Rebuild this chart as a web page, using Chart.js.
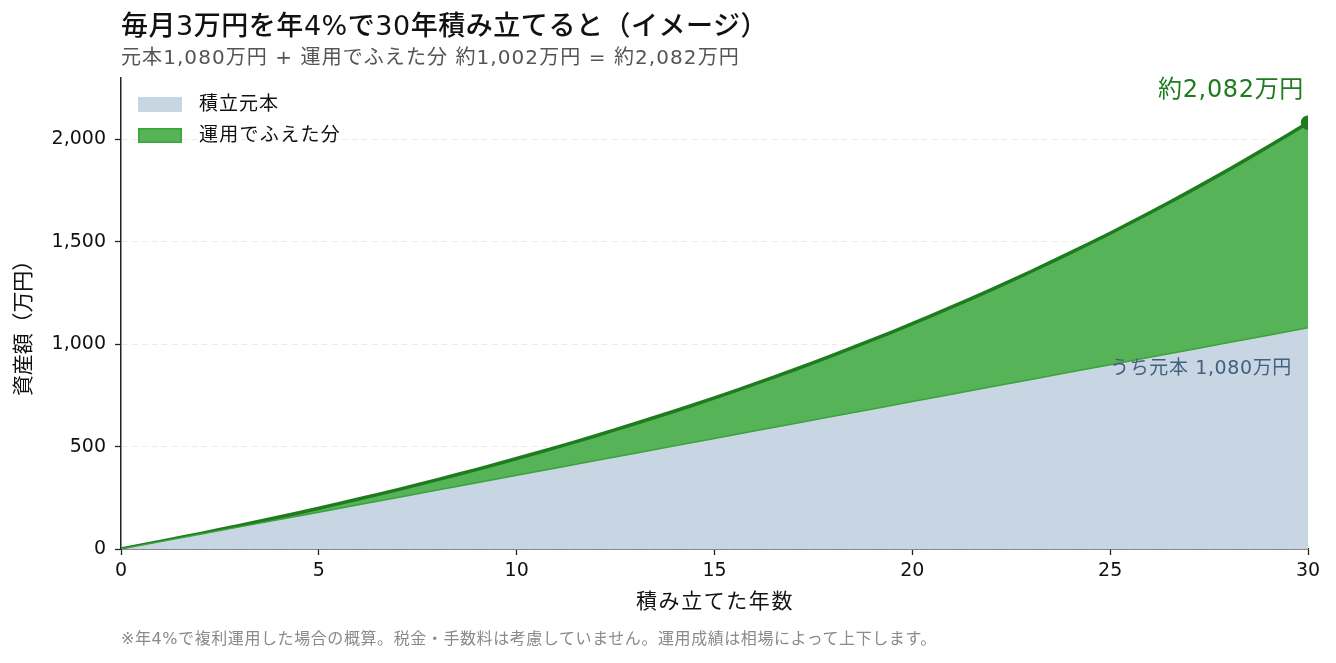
<!DOCTYPE html>
<html lang="ja">
<head>
<meta charset="utf-8">
<script src="https://cdn.jsdelivr.net/npm/chart.js@4.4.1/dist/chart.umd.min.js"></script>
<style>
  html, body { margin: 0; padding: 0; background: #fff; }
  #wrap { position: relative; width: 1336px; height: 663px; font-family: "DejaVu Sans", "Noto Sans CJK JP", sans-serif; }
  #chart { position: absolute; left: 0; top: 0; }
  .title { position: absolute; left: 121px; top: 8px; font-size: 27px; font-weight: 500; color: #111; white-space: nowrap; line-height: 36px; }
  .subtitle { position: absolute; left: 121px; top: 43px; font-size: 20px; color: #555; white-space: nowrap; line-height: 28px; }
  .note { position: absolute; left: 121px; top: 627px; font-size: 16px; color: #8a8a8a; white-space: nowrap; line-height: 24px; }
</style>
</head>
<body>
<div id="wrap">
  <canvas id="chart" width="1336" height="663"></canvas>
  <div class="title" data-w="647">毎月3万円を年4%で30年積み立てると（イメージ）</div>
  <div class="subtitle" data-w="619">元本1,080万円 + 運用でふえた分 約1,002万円 = 約2,082万円</div>
  <div class="note" data-w="816">※年4%で複利運用した場合の概算。税金・手数料は考慮していません。運用成績は相場によって上下します。</div>
</div>
<script>
// 積立年数と金額（万円）
const years = [0, 1, 2, 3, 4, 5, 6, 7, 8, 9, 10, 11, 12, 13, 14, 15, 16, 17, 18, 19, 20, 21, 22, 23, 24, 25, 26, 27, 28, 29, 30];
const principal = [0, 36, 72, 108, 144, 180, 216, 252, 288, 324, 360, 396, 432, 468, 504, 540, 576, 612, 648, 684, 720, 756, 792, 828, 864, 900, 936, 972, 1008, 1044, 1080];
const total = [0, 37, 75, 115, 156, 199, 244, 290, 339, 389, 442, 496, 553, 613, 674, 738, 805, 874, 947, 1022, 1100, 1182, 1267, 1355, 1447, 1542, 1642, 1745, 1853, 1965, 2082];
const xTicks = [0, 5, 10, 15, 20, 25, 30];
const yTicks = [0, 500, 1000, 1500, 2000];
const legendLabels = ["積立元本", "運用でふえた分"];
const xTitle = "積み立てた年数";
const yTitle = "資産額（万円）";

const font = '"DejaVu Sans", "Noto Sans CJK JP", sans-serif';

const fmt = v => v.toLocaleString("en-US");

// 見出しの横幅を字間で合わせる
document.querySelectorAll("[data-w]").forEach(el => {
    const natural = el.getBoundingClientRect().width;
    const n = el.textContent.length;
    el.style.letterSpacing = ((+el.dataset.w - natural) / n).toFixed(2) + "px";
});

// 幅を合わせたいテキストは横幅を指定して描く
function fitText(ctx, text, x, y, width) {
    ctx.letterSpacing = "0px";
    const natural = ctx.measureText(text).width;
    const gap = (width - natural) / text.length;
    ctx.letterSpacing = gap.toFixed(2) + "px";
    ctx.fillText(text, x, y);
    ctx.letterSpacing = "0px";
}

// 凡例・注記・軸タイトル
const overlay = {
    id: "overlay",
    afterDraw(chart) {
        const ctx = chart.ctx;
        const ys = chart.scales.y;
        ctx.save();
        ctx.textBaseline = "middle";

        // legend
        ctx.fillStyle = "#c8d6e3";
        ctx.fillRect(138, 97, 44, 15);
        ctx.fillStyle = "#57b357";
        ctx.fillRect(138, 128, 44, 15);
        ctx.strokeStyle = "#3aa33a";
        ctx.lineWidth = 1.5;
        ctx.strokeRect(138.75, 128.75, 42.5, 13.5);
        ctx.fillStyle = "#111";
        ctx.font = "19px " + font;
        ctx.textAlign = "left";
        fitText(ctx, legendLabels[0], 199, 105, 80);
        fitText(ctx, legendLabels[1], 199, 136, 142);

        // final value
        const last = total.length - 1;
        ctx.fillStyle = "#1e7b1e";
        ctx.font = "24px " + font;
        fitText(ctx, "約" + fmt(total[last]) + "万円", 1158, 91, 146);

        // principal label
        ctx.fillStyle = "#44607f";
        ctx.font = "19px " + font;
        fitText(ctx, "うち元本 " + fmt(principal[last]) + "万円", 1110, ys.getPixelForValue(880), 182);

        // axis titles
        ctx.fillStyle = "#111";
        ctx.font = "21px " + font;
        fitText(ctx, xTitle, 636, 603, 158);
        ctx.translate(25, 324);
        ctx.rotate(-Math.PI / 2);
        fitText(ctx, yTitle, -72, 0, 146);
        ctx.restore();
    }
};

new Chart(document.getElementById("chart"), {
    type: "line",
    data: {
        labels: years,
        datasets: [
            {
                label: legendLabels[0],
                data: years.map((y, i) => ({ x: y, y: principal[i] })),
                fill: "origin",
                backgroundColor: "#c8d6e3",
                borderColor: "#3aa33a",
                borderWidth: 1.5,
                pointRadius: 0,
                tension: 0
            },
            {
                label: legendLabels[1],
                data: years.map((y, i) => ({ x: y, y: total[i] })),
                fill: "-1",
                backgroundColor: "#57b357",
                borderColor: "#1e7b1e",
                borderWidth: 3.5,
                pointRadius: years.map((y, i) => i === years.length - 1 ? 5.5 : 0),
                pointBackgroundColor: "#1e7b1e",
                pointBorderColor: "#1e7b1e",
                tension: 0.2
            }
        ]
    },
    options: {
        responsive: false,
        animation: false,
        layout: { padding: { left: 0, right: 28, top: 78, bottom: 0 } },
        plugins: {
            legend: { display: false },
            tooltip: { enabled: false }
        },
        scales: {
            x: {
                type: "linear",
                min: 0,
                max: 30,
                afterBuildTicks: s => { s.ticks = xTicks.map(v => ({ value: v })); },
                afterFit: s => { s.height = 114; },
                grid: { drawOnChartArea: false, drawTicks: true, tickLength: 6, tickColor: "#222", tickWidth: 1.3 },
                border: { color: "#222", width: 1.5 },
                ticks: { color: "#111", font: { family: font, size: 19 }, padding: 5, maxRotation: 0 }
            },
            y: {
                min: 0,
                max: 2300,
                afterBuildTicks: s => { s.ticks = yTicks.map(v => ({ value: v })); },
                afterFit: s => { s.width = 121; },
                grid: { color: "#ebebeb", lineWidth: 1, tickLength: 6, tickColor: "#222", tickWidth: 1.3, tickBorderDash: [] },
                border: { color: "#222", width: 1.5, dash: [6, 4] },
                ticks: { color: "#111", font: { family: font, size: 19 }, padding: 9, callback: v => fmt(v) }
            }
        }
    },
    plugins: [overlay]
});
</script>
</body>
</html>
